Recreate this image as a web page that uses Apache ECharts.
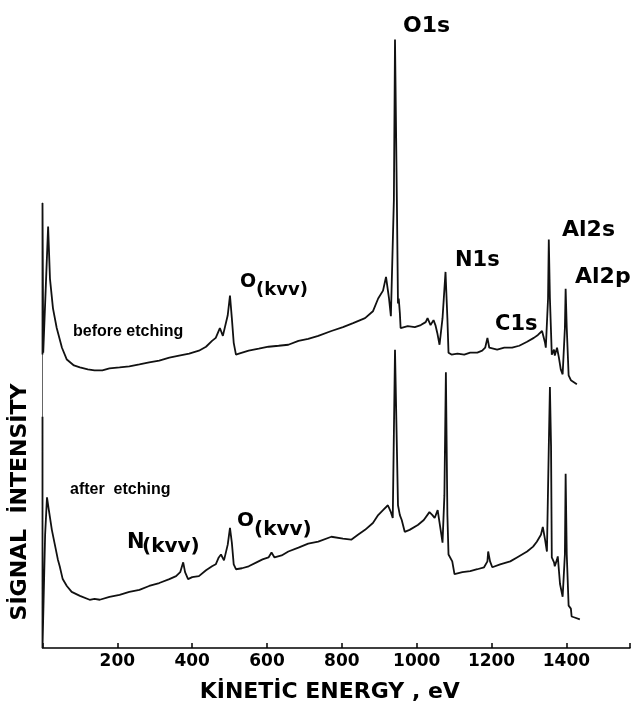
<!DOCTYPE html>
<html>
<head>
<meta charset="utf-8">
<script src="https://cdn.jsdelivr.net/npm/echarts@6/dist/echarts.min.js"></script>
<style>
  html, body { margin: 0; padding: 0; background: #fff; }
  #chart { width: 633px; height: 708px; }
</style>
</head>
<body>
<div id="chart"></div>
<script>
// spectrum before etching (kinetic energy in eV, signal in arbitrary units)
var energyBefore = [0, 0, 2, 15, 20, 28, 38, 52, 65, 84, 100, 121, 139, 160, 179, 206, 232, 259, 285, 312, 339, 365, 392, 418, 437, 453, 463, 474, 482, 487, 495, 501, 506, 511, 517, 525, 551, 578, 604, 631, 657, 684, 710, 737, 772, 803, 830, 862, 883, 897, 910, 918, 926, 931, 939, 942, 946, 947, 950, 952, 955, 957, 976, 995, 1011, 1024, 1029, 1037, 1045, 1050, 1055, 1061, 1069, 1077, 1082, 1085, 1093, 1109, 1127, 1143, 1162, 1175, 1183, 1189, 1194, 1199, 1215, 1234, 1255, 1274, 1295, 1313, 1324, 1335, 1343, 1345, 1351, 1353, 1356, 1361, 1367, 1369, 1375, 1380, 1385, 1390, 1396, 1398, 1401, 1406, 1412, 1420, 1428];
var intensityBefore = [298, 452, 300, 428, 375, 345, 325, 305, 293, 287, 285, 283, 282, 282, 284, 285, 286, 288, 290, 292, 295, 297, 299, 302, 306, 312, 315, 325, 317, 315, 338, 358, 335, 310, 298, 299, 302, 304, 306, 307, 308, 312, 314, 317, 322, 326, 330, 335, 342, 355, 363, 377, 355, 337, 455, 618, 618, 455, 350, 355, 340, 325, 327, 326, 328, 331, 335, 328, 333, 328, 320, 308, 335, 382, 335, 300, 298, 299, 298, 300, 300, 302, 305, 315, 305, 303, 303, 305, 305, 307, 311, 315, 318, 322, 310, 305, 355, 415, 355, 298, 303, 297, 305, 295, 283, 278, 325, 365, 325, 277, 272, 270, 268];

// spectrum after etching
var energyAfter = [0, 0, 7, 12, 17, 25, 33, 41, 46, 54, 65, 78, 100, 126, 139, 153, 179, 206, 232, 259, 285, 312, 339, 357, 368, 376, 381, 389, 400, 418, 437, 453, 463, 471, 477, 485, 490, 495, 501, 506, 511, 517, 533, 551, 572, 588, 604, 612, 620, 639, 657, 684, 710, 737, 772, 803, 825, 843, 862, 883, 897, 910, 923, 931, 936, 942, 946, 950, 955, 960, 968, 981, 1003, 1019, 1034, 1042, 1048, 1056, 1061, 1066, 1069, 1074, 1078, 1082, 1085, 1090, 1095, 1101, 1122, 1143, 1162, 1180, 1189, 1191, 1196, 1202, 1223, 1250, 1268, 1295, 1311, 1321, 1332, 1337, 1343, 1348, 1353, 1356, 1359, 1361, 1367, 1369, 1375, 1377, 1383, 1390, 1396, 1398, 1401, 1406, 1412, 1414, 1422, 1436];
var intensityAfter = [235, 0, 115, 153, 140, 120, 105, 90, 83, 70, 63, 57, 53, 49, 50, 49, 52, 54, 57, 59, 63, 66, 70, 73, 77, 87, 77, 70, 72, 73, 79, 83, 85, 92, 95, 89, 88, 105, 122, 107, 85, 80, 81, 83, 87, 90, 92, 97, 92, 94, 98, 102, 106, 108, 113, 111, 110, 115, 120, 127, 135, 140, 145, 138, 132, 303, 303, 145, 135, 130, 118, 120, 125, 130, 138, 135, 132, 140, 142, 115, 107, 155, 280, 135, 95, 93, 88, 75, 77, 78, 80, 82, 88, 98, 88, 82, 85, 88, 92, 98, 103, 108, 115, 123, 110, 98, 205, 265, 205, 92, 87, 83, 90, 93, 65, 52, 95, 177, 95, 43, 40, 32, 31, 29];

var xTickLabels = [200, 400, 600, 800, 1000, 1200, 1400];
var peakLabels = ['O1s', 'N1s', 'C1s', 'Al2s', 'Al2p'];

var FONT = 'DejaVu Sans';

function pairs(xs, ys) {
  return xs.map(function (x, i) { return [x, ys[i]]; });
}

function boldText(txt, x, y, size, family) {
  return {
    type: 'text', x: x, y: y, silent: true,
    style: { text: txt, fill: '#000', fontFamily: family || FONT, fontWeight: 'bold', fontSize: size, align: 'left', verticalAlign: 'middle' }
  };
}

var chart = echarts.init(document.getElementById('chart'), null, { renderer: 'canvas' });

var option = {
  animation: false,
  backgroundColor: '#fff',
  grid: { left: 42.5, right: 0, top: 203, bottom: 53 },
  xAxis: {
    type: 'value', min: 0, max: 1570, interval: 200,
    name: 'KİNETİC ENERGY , eV', nameLocation: 'middle', nameGap: 33,
    nameTextStyle: { fontFamily: FONT, fontWeight: 'bold', fontSize: 22, color: '#000', padding: [0, 13, 0, 0] },
    axisLine: { lineStyle: { color: '#000', width: 1.5 } },
    axisTick: { inside: true, length: 5, lineStyle: { color: '#000', width: 1.5 } },
    axisLabel: {
      margin: 5, fontFamily: FONT, fontWeight: 'bold', fontSize: 17, color: '#000',
      formatter: function (v) { return xTickLabels.indexOf(v) >= 0 ? String(v) : ''; }
    },
    splitLine: { show: false }
  },
  yAxis: {
    type: 'value', min: 0, max: 452,
    axisLine: { show: true, lineStyle: { color: '#666', width: 1 } },
    axisTick: { show: false }, axisLabel: { show: false }, splitLine: { show: false }
  },
  series: [
    {
      name: 'before etching', type: 'line', data: pairs(energyBefore, intensityBefore),
      showSymbol: false, clip: false, silent: true,
      lineStyle: { color: '#111', width: 1.8 }
    },
    {
      name: 'after etching', type: 'line', data: pairs(energyAfter, intensityAfter),
      showSymbol: false, clip: false, silent: true,
      lineStyle: { color: '#111', width: 1.8 }
    }
  ],
  graphic: [
    {
      type: 'text', x: 20, y: 502, rotation: Math.PI / 2, silent: true,
      style: { text: 'SİGNAL  İNTENSİTY', fill: '#000', fontFamily: FONT, fontWeight: 'bold', fontSize: 22, align: 'center', verticalAlign: 'middle' }
    },
    boldText(peakLabels[0], 403, 26, 22),
    boldText(peakLabels[1], 455, 261, 21),
    boldText(peakLabels[2], 495, 325, 21),
    boldText(peakLabels[3], 562, 230, 22),
    boldText(peakLabels[4], 575, 277, 22),
    boldText('before etching', 73, 332, 16, 'Liberation Sans'),
    boldText('after  etching', 70, 490, 16, 'Liberation Sans'),
    // Auger lines: letter with lowered "(kvv)"
    boldText('O', 240, 282, 19),
    boldText('(kvv)', 256, 290, 18),
    boldText('N', 127, 543, 21),
    boldText('(kvv)', 142, 547, 20),
    boldText('O', 237, 521, 20),
    boldText('(kvv)', 254, 530, 20)
  ]
};

chart.setOption(option);
</script>
</body>
</html>
